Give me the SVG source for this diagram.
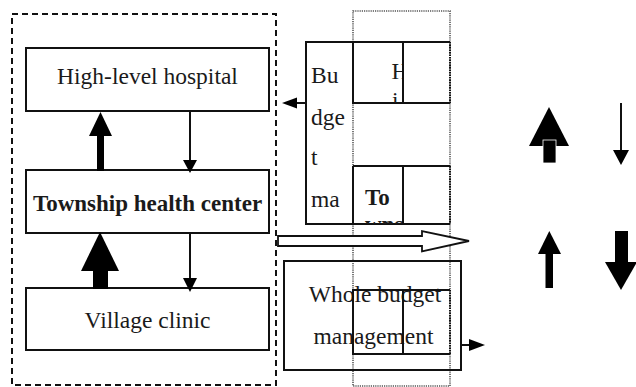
<svg xmlns="http://www.w3.org/2000/svg" width="636" height="387" viewBox="0 0 636 387">
<style>
.box{fill:none;stroke:#111;stroke-width:2}
.t{font-family:"Liberation Serif","Times New Roman",serif;font-size:23.5px;fill:#1a1a1a}
.b{font-weight:bold;font-size:23px}
.dash{fill:none;stroke:#111;stroke-width:2;stroke-dasharray:6 4}
.dot{fill:none;stroke:#555;stroke-width:1.6;stroke-dasharray:1.2 1}
.dotk{fill:none;stroke:#111;stroke-width:2;stroke-dasharray:1.5 1}
.ln{stroke:#111;stroke-width:2;fill:none}
.fill{fill:#000}
</style>
<defs>
<clipPath id="cH"><rect x="353" y="42" width="49" height="61"/></clipPath>
<clipPath id="cT"><rect x="353" y="166" width="49" height="58"/></clipPath>
</defs>
<rect width="636" height="387" fill="#fff"/>

<g id="outer-group">
<rect class="dash" x="12" y="14" width="264" height="371"/>
</g>
<g id="dotted-column">
<rect class="dot" x="353" y="11" width="97" height="375"/>
</g>

<g id="high-level-hospital">
<rect class="box" x="26" y="48" width="243" height="63"/>
<text class="t" x="147.5" y="84" text-anchor="middle">High-level hospital</text>
</g>
<g id="township-health-center">
<rect class="box" x="26" y="170" width="243" height="63"/>
<text class="t b" x="147.5" y="211" text-anchor="middle">Township health center</text>
</g>
<g id="village-clinic">
<rect class="box" x="26" y="288" width="243" height="62"/>
<text class="t" x="147.5" y="328" text-anchor="middle">Village clinic</text>
</g>

<g id="budget-management">
<path class="ln" d="M450,42 H306 V224 H450"/>
<text class="t" x="311" y="83">Bu</text>
<text class="t" x="311" y="125">dge</text>
<text class="t" x="311" y="165">t</text>
<text class="t" x="311" y="207">ma</text>
<path class="ln" d="M353,42 V103 H450 M403,42 V103"/>
<path class="ln" d="M353,166 V224 M353,166 H450 M403,166 V224"/>
<line class="dotk" x1="450" y1="42" x2="450" y2="103"/>
<line class="dotk" x1="450" y1="166" x2="450" y2="224"/>
<g clip-path="url(#cH)">
<text class="t" x="391.5" y="79">H</text>
<text class="t" x="392" y="108">i</text>
</g>
<g clip-path="url(#cT)">
<text class="t b" x="365" y="205">To</text>
<text class="t b" x="365" y="232">wns</text>
</g>
</g>

<g id="whole-budget-management">
<rect class="box" x="284" y="261" width="177" height="109"/>
<text class="t" x="375" y="302" text-anchor="middle">Whole budget</text>
<text class="t" x="373.5" y="344" text-anchor="middle">management</text>
<path class="ln" d="M450,290 H353 V354 H450 M403,290 V354"/>
<line class="dotk" x1="450" y1="290" x2="450" y2="354"/>
</g>

<g id="connectors">
<!-- township to hospital thick up -->
<rect class="fill" x="97" y="134" width="7" height="37"/>
<polygon class="fill" points="100.5,112 89,136 112,136"/>
<!-- hospital to township thin down -->
<line class="ln" x1="190" y1="111" x2="190" y2="162"/>
<polygon class="fill" points="183,160 197,160 190,173"/>
<!-- village to township thick up -->
<rect class="fill" x="93" y="268" width="15" height="21"/>
<polygon class="fill" points="100,232 81,271 119,271"/>
<!-- township to village thin down -->
<line class="ln" x1="190" y1="233" x2="190" y2="280"/>
<polygon class="fill" points="183,278 197,278 190,292"/>
<!-- budget to outer group -->
<line class="ln" x1="306" y1="103" x2="295" y2="103"/>
<polygon class="fill" points="282,103 297,97.5 297,108.5"/>
<!-- hollow block arrow -->
<polygon points="278,236 422,236 422,231 469,241 422,251.5 422,246 278,246" fill="#fff" stroke="#111" stroke-width="1.8" stroke-linejoin="miter"/>
<!-- whole budget right arrow -->
<line class="ln" x1="461" y1="345" x2="472" y2="345"/>
<polygon class="fill" points="485,345 469,339 469,351"/>
</g>

<g id="legend-arrows">
<polygon class="fill" points="549,107 529,146 569,146"/>
<rect x="543" y="140" width="13" height="23" fill="#000" stroke="#fff" stroke-width="0.8"/>
<line class="ln" x1="621" y1="103" x2="621" y2="152" stroke-width="1.6"/>
<polygon class="fill" points="613,150 629,150 621,165"/>
<rect class="fill" x="545.5" y="252" width="7.5" height="36"/>
<polygon class="fill" points="549.3,231 538,254 561,254"/>
<rect class="fill" x="615" y="231" width="13" height="32"/>
<polygon class="fill" points="605,262 637,262 621,290"/>
</g>
</svg>
